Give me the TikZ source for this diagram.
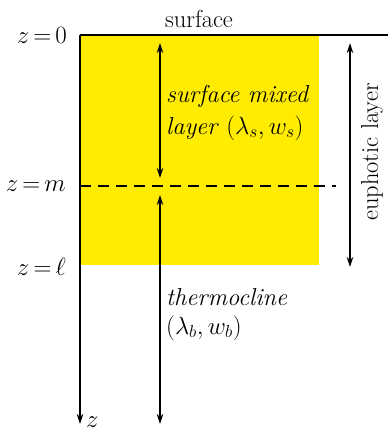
\documentclass[tikz,border=0pt]{standalone}
\usetikzlibrary{arrows.meta}
\definecolor{layeryellow}{RGB}{255,236,0}
\tikzset{
  lbl/.style={font=\fontsize{24.5}{29}\selectfont, inner sep=0pt},
  dbl/.style={line width=1.2pt, {Stealth[length=10pt,width=6.5pt]}-{Stealth[length=10pt,width=6.5pt]}},
  sgl/.style={line width=1.2pt, -{Stealth[length=10pt,width=6.5pt]}},
}
\begin{document}
\begin{tikzpicture}[x=1pt,y=-1pt]
\useasboundingbox (0,0) rectangle (388,432);
\fill[layeryellow] (81,35) rectangle (319,265);
% surface and axis
\coordinate (o) at (80,35);
\coordinate (zend) at (80,424);
\coordinate (sr) at (388,35);
\draw[line width=1.2pt] (sr) -- (o);
\draw[sgl] (o) -- (zend);
\node[lbl, anchor=west] (zl) at (86,422) {$z$};
% dashed line at z=m
\coordinate (m0) at (80,186);
\coordinate (m1) at (336,186);
\draw[line width=1.1pt, dash pattern=on 11pt off 7pt] (m0) -- (m1);
% labels on left
\node[lbl, anchor=east] (z0) at (67,35) {$z\,{=}\,0$};
\node[lbl, anchor=east] (zm) at (66,186) {$z\,{=}\,m$};
\node[lbl, anchor=east] (zl2) at (66,267) {$z\,{=}\,\ell$};
\node[lbl] (surf) at (199,19) {surface};
% arrows
\coordinate (a1t) at (160,43);
\coordinate (a1b) at (160,178);
\draw[dbl] (a1t) -- (a1b);
\coordinate (a2t) at (160,195);
\coordinate (a2b) at (160,424);
\draw[dbl] (a2t) -- (a2b);
\coordinate (e1) at (350,43);
\coordinate (e2) at (350,267);
\draw[dbl] (e1) -- (e2);
\node[lbl, rotate=90] (eu) at (372,152) {euphotic layer};
% layer texts
\node[lbl, anchor=west] (sm1) at (166,96) {\textit{surface mixed}};
\node[lbl, anchor=west] (sm2) at (166,128) {\textit{layer} $(\lambda_s, w_s)$};
\node[lbl, anchor=west] (th1) at (166,297) {\textit{thermocline}};
\node[lbl, anchor=west] (th2) at (166,328) {$(\lambda_b, w_b)$};
\end{tikzpicture}
\end{document}
